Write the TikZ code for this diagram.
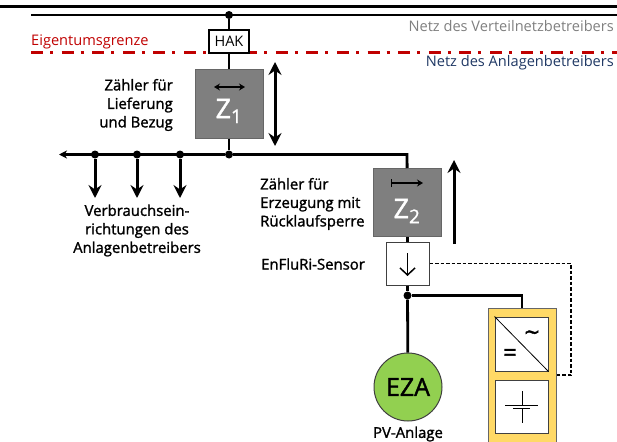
\documentclass[tikz,border=0pt]{standalone}
\usepackage{fontspec}
\setmainfont{Open Sans}
\newfontfamily\semifont[FakeBold=1.5]{Open Sans}
\usetikzlibrary{arrows.meta}

\begin{document}
\begin{tikzpicture}[x=1pt, y=-1pt]
    % ==========================
    % Settings
    % ==========================
    \definecolor{redline}{HTML}{C00000}
    \definecolor{meter}{HTML}{7F7F7F}
    \definecolor{inverter}{HTML}{FFD966}
    \definecolor{eza}{HTML}{92D050}
    \definecolor{netblue}{HTML}{1F3864}
    \tikzset{
        dot/.style={circle, fill=black, inner sep=0pt, minimum size=8pt}, % junctions
        wire/.style={line width=2.8pt},
        bigtip/.style={-{Stealth[length=13pt, width=13pt, inset=4.5pt]}, line width=3pt},
        smalltip/.style={-{Stealth[length=6pt, width=7pt, inset=2pt]}, line width=1.2pt},
        meterbox/.style={draw=black!60, fill=meter, minimum size=68pt, inner sep=0pt, line width=1pt},
        whitebox/.style={draw=black!75, fill=white, inner sep=0pt, line width=1pt},
        txt/.style={font=\fontsize{14.9}{18.5}\selectfont\semifont, inner sep=0pt, text=black},
        net/.style={font=\fontsize{14.6}{15}\selectfont, inner sep=0pt}
    }
    \clip (0,0) rectangle (617,441);

    % ==========================
    % 1. Grid lines
    % ==========================
    \coordinate (topL) at (0,6.5);
    \coordinate (topR) at (617,6.5);
    \coordinate (gridL) at (31,15);
    \coordinate (gridR) at (617,15);
    \coordinate (ownL) at (31,52.7);
    \coordinate (ownR) at (617,52.7);

    \draw[line width=2.2pt] (topL) -- (topR);
    \draw[wire] (gridL) -- (gridR);
    \draw[redline, line width=3pt, dash pattern=on 12pt off 7pt on 3pt off 8.6pt] (ownL) -- (ownR);

    \node[net, text=meter, anchor=east] (vnb) at (614,26) {Netz des Verteilnetzbetreibers};
    \node[net, text=netblue, anchor=east] (anb) at (614,63) {Netz des Anlagenbetreibers};
    \node[net, text=redline, anchor=west] (own) at (31,42) {Eigentumsgrenze};

    % ==========================
    % 2. HAK and Z1
    % ==========================
    \node[dot] (d0) at (229,15) {};
    \node[draw=black, fill=white, line width=1.4pt, minimum width=40pt, minimum height=23pt, inner sep=0pt,
        font=\fontsize{14.5}{15}\selectfont] (hak) at (229,41.5) {HAK};
    \node[meterbox] (z1) at (229,104) {};
    \node[text=white, inner sep=0pt, font=\fontsize{27}{28}\selectfont\semifont] (z1txt) at (229,111) {Z\textsubscript{1}};
    \node[dot] (d1) at (229,154.5) {};

    \draw[wire] (d0) -- (hak);
    \draw[wire] (hak) -- (z1);
    \draw[wire] (z1) -- (d1);

    \coordinate (z1a) at (214,87);
    \coordinate (z1b) at (245,87);
    \draw[smalltip, {Stealth[length=6pt, width=7pt, inset=2pt]}-{Stealth[length=6pt, width=7pt, inset=2pt]}] (z1a) -- (z1b);

    \coordinate (dirA) at (275,62);
    \coordinate (dirB) at (275,146);
    \draw[bigtip, {Stealth[length=13pt, width=13pt, inset=4.5pt]}-{Stealth[length=13pt, width=13pt, inset=4.5pt]}] (dirA) -- (dirB);

    \node[txt, align=right, anchor=east] (z1lbl) at (173,105) {Zähler für\\Lieferung\\und Bezug};

    % ==========================
    % 3. Consumer bus
    % ==========================
    \coordinate (busL) at (59,154.5);
    \coordinate (busR) at (407,154.5);
    \node[dot] (c1) at (95,154.5) {};
    \node[dot] (c2) at (137,154.5) {};
    \node[dot] (c3) at (180,154.5) {};
    \coordinate (c1e) at (95,198);
    \coordinate (c2e) at (137,198);
    \coordinate (c3e) at (180,198);

    \draw[wire, -{Stealth[length=8pt, width=8pt, inset=2.5pt]}] (d1) -- (busL);
    \foreach \i in {1,2,3} {
        \draw[bigtip] (c\i) -- (c\i e);
    }
    \node[txt, align=center] (vlbl) at (137,230.5) {Verbrauchsein-\\richtungen des\\Anlagenbetreibers};

    % ==========================
    % 4. Z2 and sensor
    % ==========================
    \node[meterbox] (z2) at (407.5,202.5) {};
    \node[text=white, inner sep=0pt, font=\fontsize{27}{28}\selectfont\semifont] (z2txt) at (407,211) {Z\textsubscript{2}};
    \node[whitebox, minimum width=43pt, minimum height=43pt] (sens) at (407.5,263.5) {};
    \node[dot] (d2) at (407.5,295.5) {};

    \draw[wire] (d1) -- (busR) -- (z2);
    \draw[wire] (z2) -- (sens);
    \draw[wire] (sens) -- (d2);

    \coordinate (z2a) at (391,183);
    \coordinate (z2b) at (423,183);
    \draw[smalltip, {Bar[width=8pt]}-{Stealth[length=6pt, width=7pt, inset=2pt]}] (z2a) -- (z2b);

    \coordinate (sa) at (407.5,253);
    \coordinate (sb) at (407.5,276);
    \draw[line width=1.5pt, -{Straight Barb[length=7pt, width=15pt]}] (sa) -- (sb);

    \coordinate (upA) at (454,244);
    \coordinate (upB) at (454,160);
    \draw[bigtip] (upA) -- (upB);

    \node[txt, align=left, anchor=west] (z2lbl) at (260,204) {Zähler für\\Erzeugung mit\\Rücklaufsperre};
    \node[txt, anchor=west] (slbl) at (261,264) {EnFluRi-Sensor};

    % ==========================
    % 5. PV plant
    % ==========================
    \node[circle, draw=black!75, fill=eza, minimum size=68pt, inner sep=0pt, line width=1pt,
        font=\fontsize{25}{26}\selectfont\semifont] (ez) at (408,387) {EZA};
    \node[txt] (pv) at (408,434) {PV-Anlage};
    \draw[wire] (d2) -- (ez);

    % ==========================
    % 6. Inverter and battery
    % ==========================
    \node[draw=black!60, fill=inverter, line width=1pt, minimum width=68pt, minimum height=144pt, inner sep=0pt] (wr) at (522,380) {};
    \node[whitebox, minimum width=53pt, minimum height=54pt] (inv) at (521.5,344) {};
    \node[whitebox, minimum width=53pt, minimum height=53pt] (bat) at (521.5,406.5) {};

    \coordinate (wrc) at (522,295.5);
    \draw[wire] (d2) -- (wrc) -- (wr.north -| wrc);

    \draw[line width=0.8pt] (inv.north west) -- (inv.south east);
    \node[inner sep=0pt, font=\fontsize{26}{28}\selectfont\semifont] (ac) at (532,336) {\textasciitilde};
    \node[inner sep=0pt, font=\fontsize{24}{26}\selectfont\semifont] (dc) at (510,355) {=};

    \coordinate (b1) at (522,391);
    \coordinate (b2) at (522,405);
    \coordinate (b3) at (522,408);
    \coordinate (b4) at (522,423);
    \coordinate (p1) at (505,405);
    \coordinate (p2) at (538,405);
    \coordinate (p3) at (513,408);
    \coordinate (p4) at (530,408);
    \draw[line width=0.8pt] (b1) -- (b2) (b3) -- (b4) (p1) -- (p2) (p3) -- (p4);

    % ==========================
    % 7. Sensor signal
    % ==========================
    \coordinate (sigA) at (571,263.5);
    \coordinate (sigB) at (571,375);
    \draw[line width=1.3pt, dash pattern=on 3.5pt off 2pt] (sens) -- (sigA) -- (sigB) -- (sigB -| wr.east);

\end{tikzpicture}
\end{document}
